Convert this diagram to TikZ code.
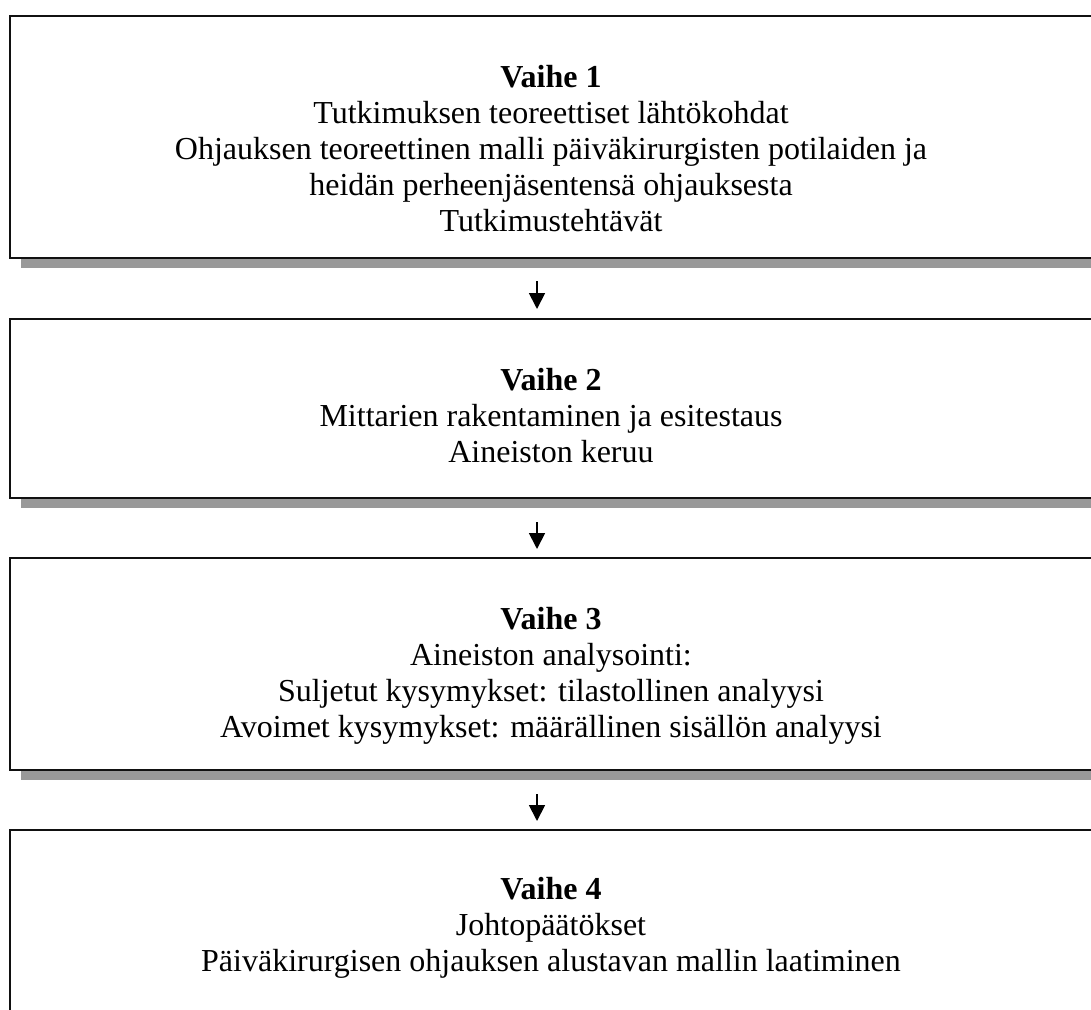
\documentclass[tikz,border=0pt]{standalone}
\usepackage{fontspec}
\setmainfont{Liberation Serif}
\usetikzlibrary{arrows.meta,shadows}
\definecolor{shadowgray}{HTML}{999999}
\definecolor{edge}{HTML}{111111}
\begin{document}
\begin{tikzpicture}[x=1pt,y=-1pt,
  phasebox/.style={draw=edge, line width=2pt, fill=white, rectangle, inner sep=0pt, anchor=north west,
    drop shadow={shadow xshift=11pt, shadow yshift=-10pt, fill=shadowgray, opacity=1}},
  lastbox/.style={draw=edge, line width=2pt, fill=white, rectangle, inner sep=0pt, anchor=north west},
  phasetext/.style={align=center, anchor=north, inner sep=0pt, font=\fontsize{32}{36}\selectfont},
  flow/.style={line width=1.8pt, -{Triangle[width=16pt,length=16pt]}}
]
\useasboundingbox (0,0) rectangle (1091,1009);
\clip (0,0) rectangle (1091,1009);
\fill[white] (0,0) rectangle (1091,1009);

% phase boxes (they run past the right edge of the page)
\node[phasebox, minimum width=1084pt, minimum height=242pt] (b1) at (9,15) {};
\node[phasebox, minimum width=1084pt, minimum height=179pt] (b2) at (9,318) {};
\node[phasebox, minimum width=1084pt, minimum height=212pt] (b3) at (9,557) {};
\node[lastbox,  minimum width=1084pt, minimum height=220pt] (b4) at (9,829) {};

% phase descriptions
\node[phasetext] (t1) at (551,65) {\textbf{Vaihe 1}\\Tutkimuksen teoreettiset lähtökohdat\\Ohjauksen teoreettinen malli päiväkirurgisten potilaiden ja\\heidän perheenjäsentensä ohjauksesta\\Tutkimustehtävät};
\node[phasetext] (t2) at (551,368) {\textbf{Vaihe 2}\\Mittarien rakentaminen ja esitestaus\\Aineiston keruu};
\node[phasetext] (t3) at (551,607) {\textbf{Vaihe 3}\\Aineiston analysointi:\\Suljetut kysymykset: tilastollinen analyysi\\Avoimet kysymykset: määrällinen sisällön analyysi};
\node[phasetext] (t4) at (551,877) {\textbf{Vaihe 4}\\Johtopäätökset\\Päiväkirurgisen ohjauksen alustavan mallin laatiminen};

% arrows between the phases
\coordinate (ax) at (537,0);
\draw[flow, shorten <=22pt, shorten >=9pt] (b1.south -| ax) -- (b2.north -| ax);
\draw[flow, shorten <=23pt, shorten >=8pt] (b2.south -| ax) -- (b3.north -| ax);
\draw[flow, shorten <=23pt, shorten >=8pt] (b3.south -| ax) -- (b4.north -| ax);
\end{tikzpicture}
\end{document}
